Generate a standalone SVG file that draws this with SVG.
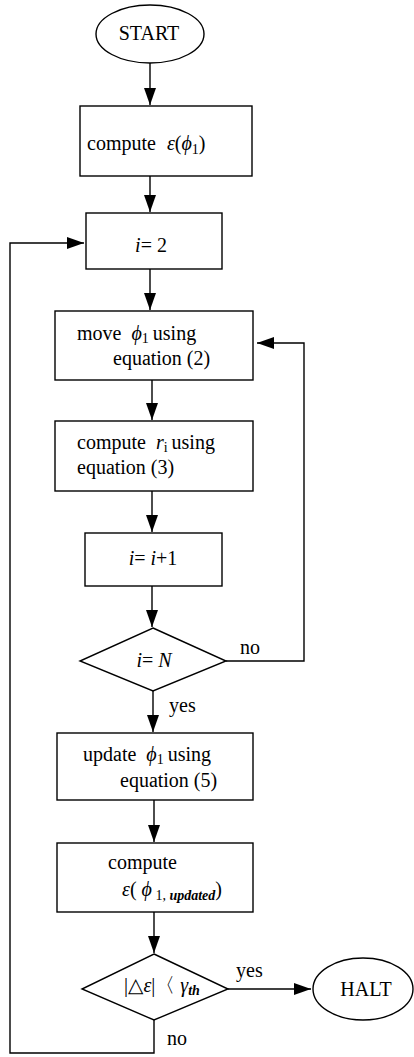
<svg xmlns="http://www.w3.org/2000/svg" width="414" height="1057" viewBox="0 0 414 1057">
<defs>
<style>
.s{fill:#fff;stroke:#000;stroke-width:1.4}
.c{fill:none;stroke:#000;stroke-width:1.4}
text{font-family:"Liberation Serif","DejaVu Serif",serif;font-size:20px;fill:#000}
.i{font-style:italic}
.sub{font-size:14px}
</style>
<marker id="a" markerUnits="userSpaceOnUse" markerWidth="18" markerHeight="13" refX="17" refY="6" orient="auto">
<path d="M0,0 L17,6 L0,12 z" fill="#000"/>
</marker>
</defs>
<rect width="414" height="1057" fill="#fff"/>
<g id="connectors">
<path class="c" d="M150,63 V105" marker-end="url(#a)"/>
<path class="c" d="M150,176 V212" marker-end="url(#a)"/>
<path class="c" d="M150,269 V310" marker-end="url(#a)"/>
<path class="c" d="M152,380 V420" marker-end="url(#a)"/>
<path class="c" d="M152,490 V532" marker-end="url(#a)"/>
<path class="c" d="M152,586 V627" marker-end="url(#a)"/>
<path class="c" d="M226,661 H304 V343 H257" marker-end="url(#a)"/>
<path class="c" d="M153,691 V732" marker-end="url(#a)"/>
<path class="c" d="M154,800 V842" marker-end="url(#a)"/>
<path class="c" d="M154,912 V953" marker-end="url(#a)"/>
<path class="c" d="M228,989 H311" marker-end="url(#a)"/>
<path class="c" d="M154,1020 V1053 H10 V243 H84" marker-end="url(#a)"/>
<text x="240" y="654">no</text>
<text x="169" y="712">yes</text>
<text x="236" y="977">yes</text>
<text x="167" y="1045">no</text>
</g>
<g id="start">
<ellipse class="s" cx="150" cy="34" rx="54" ry="29"/>
<text x="149" y="40" text-anchor="middle">START</text>
</g>
<g id="compute_e1">
<rect class="s" x="80" y="106" width="172" height="70"/>
<text x="87" y="150">compute <tspan class="i" dx="6">ε</tspan>(<tspan class="i">ϕ</tspan><tspan class="sub" dy="4">1</tspan><tspan dy="-4">)</tspan></text>
</g>
<g id="i2">
<rect class="s" x="86" y="213" width="136" height="56"/>
<text x="151" y="252" text-anchor="middle"><tspan class="i">i</tspan>= 2</text>
</g>
<g id="move">
<rect class="s" x="55" y="311" width="198" height="69"/>
<text x="77" y="340">move <tspan class="i" dx="5">ϕ</tspan><tspan class="sub" dy="3">1</tspan><tspan dy="-3" dx="4">using</tspan></text>
<text x="113" y="365">equation (2)</text>
</g>
<g id="compute_r">
<rect class="s" x="55" y="421" width="198" height="70"/>
<text x="77" y="449">compute <tspan class="i" dx="5">r</tspan><tspan class="sub" dy="3">i</tspan><tspan dy="-3" dx="4">using</tspan></text>
<text x="77" y="474">equation (3)</text>
</g>
<g id="inc">
<rect class="s" x="85" y="533" width="137" height="53"/>
<text x="153" y="565" text-anchor="middle"><tspan class="i">i</tspan>= <tspan class="i">i</tspan>+1</text>
</g>
<g id="check_n">
<polygon class="s" points="153,628 226,661 153,691 80,661"/>
<text x="154" y="667" text-anchor="middle"><tspan class="i">i</tspan>= <tspan class="i">N</tspan></text>
</g>
<g id="update">
<rect class="s" x="57" y="733" width="196" height="67"/>
<text x="83" y="761">update <tspan class="i" dx="5">ϕ</tspan><tspan class="sub" dy="3">1</tspan><tspan dy="-3" dx="4">using</tspan></text>
<text x="120" y="787">equation (5)</text>
</g>
<g id="compute_e2">
<rect class="s" x="57" y="843" width="196" height="69"/>
<text x="108" y="869">compute</text>
<text x="122" y="896"><tspan class="i">ε</tspan>( <tspan class="i">ϕ</tspan><tspan class="sub" dy="4"> 1, </tspan><tspan class="sub i" font-weight="bold">updated</tspan><tspan dy="-4">)</tspan></text>
</g>
<g id="check_e">
<polygon class="s" points="154,954 228,989 154,1020 82,989"/>
<text x="124" y="992">|△<tspan class="i">ε</tspan>|〈 <tspan class="i">γ</tspan><tspan class="sub i" font-weight="bold" dy="3">th</tspan></text>
</g>
<g id="halt">
<ellipse class="s" cx="363" cy="989" rx="50" ry="31"/>
<text x="366" y="996" text-anchor="middle">HALT</text>
</g>
</svg>
